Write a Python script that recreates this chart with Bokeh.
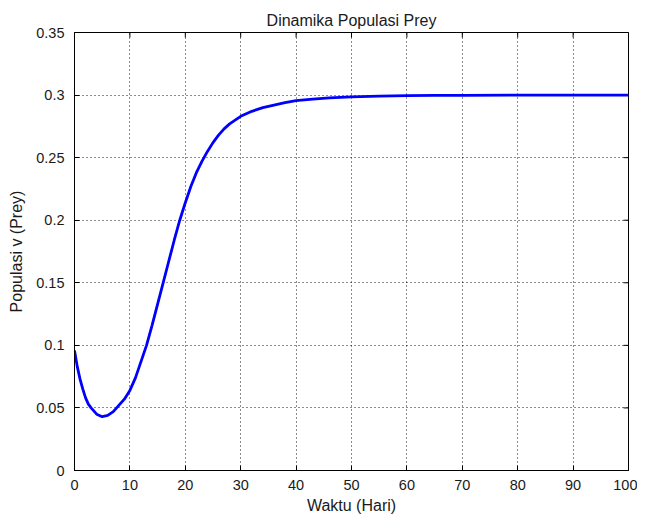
import math
from bokeh.plotting import figure
from bokeh.models import Range1d, FixedTicker
from bokeh.embed import file_html
from bokeh.resources import INLINE

# data
t = [0, 0.5, 1, 1.5, 2, 2.5, 3, 4, 5, 6, 7, 8, 9, 10, 11, 12, 13, 14, 15, 16,
     17, 18, 19, 20, 21, 22, 23, 24, 25, 26, 27, 28, 29, 30, 32, 34, 36, 38,
     40, 43, 46, 50, 55, 60, 65, 70, 80, 90, 100]
prey = [0.096, 0.083, 0.073, 0.065, 0.058, 0.053, 0.050, 0.045, 0.043, 0.044,
        0.047, 0.052, 0.057, 0.064, 0.074, 0.087, 0.100, 0.116, 0.133, 0.150,
        0.167, 0.184, 0.200, 0.214, 0.227, 0.238, 0.247, 0.255, 0.262, 0.268,
        0.273, 0.277, 0.280, 0.283, 0.287, 0.290, 0.292, 0.294, 0.2955, 0.2968,
        0.2978, 0.2986, 0.2992, 0.2995, 0.2997, 0.2998, 0.2999, 0.3, 0.3]
x_ticks = [0, 10, 20, 30, 40, 50, 60, 70, 80, 90, 100]
y_ticks = [0, 0.05, 0.1, 0.15, 0.2, 0.25, 0.3, 0.35]
y_labels = {0: "0", 0.05: "0.05", 0.1: "0.1", 0.15: "0.15", 0.2: "0.2",
            0.25: "0.25", 0.3: "0.3", 0.35: "0.35"}
x_max = 100
y_max = 0.35

FONT = "Liberation Sans"
TXT = "#1a1a1a"

p = figure(width=637, height=518, output_backend="svg", toolbar_location=None,
           x_range=Range1d(0, x_max), y_range=Range1d(0, y_max),
           x_axis_label="Waktu (Hari)", y_axis_label="Populasi v (Prey)")
p.min_border_left = 74
p.min_border_right = 9
p.min_border_top = 32
p.min_border_bottom = 48
p.background_fill_color = "white"
p.border_fill_color = "white"
p.outline_line_color = "black"
p.outline_line_width = 1

p.title.text = "Dinamika Populasi Prey"
p.title.align = "center"
p.title.text_font = FONT
p.title.text_font_size = "16px"
p.title.text_font_style = "normal"
p.title.text_color = TXT
p.title.standoff = 8

for ax in (p.xaxis[0], p.yaxis[0]):
    ax.major_tick_in = 5
    ax.major_tick_out = 0
    ax.minor_tick_in = 0
    ax.minor_tick_out = 0
    ax.axis_line_color = "black"
    ax.major_tick_line_color = "black"
    ax.major_label_text_font = FONT
    ax.major_label_text_font_size = "14.5px"
    ax.major_label_text_color = TXT
    ax.axis_label_text_font = FONT
    ax.axis_label_text_font_size = "16px"
    ax.axis_label_text_font_style = "normal"
    ax.axis_label_text_color = TXT

p.xaxis.ticker = FixedTicker(ticks=x_ticks)
p.yaxis.ticker = FixedTicker(ticks=y_ticks)
p.yaxis.major_label_overrides = y_labels
p.xaxis.major_label_standoff = 9
p.yaxis.major_label_standoff = 10
p.xaxis.axis_label_standoff = 4
p.yaxis.axis_label_standoff = 8

p.xgrid.ticker = FixedTicker(ticks=x_ticks)
p.ygrid.ticker = FixedTicker(ticks=y_ticks)
for g in (p.xgrid[0], p.ygrid[0]):
    g.grid_line_color = "black"
    g.grid_line_dash = "1 3"
    g.grid_line_width = 1
    g.grid_line_alpha = 0.9

# inward ticks on the top and right edges (MATLAB box), clipped to the frame
p.scatter(x_ticks, [y_max] * len(x_ticks), marker="dash", size=10,
          angle=math.pi / 2, line_color="black", line_width=1)
p.scatter([x_max] * len(y_ticks), y_ticks, marker="dash", size=10,
          line_color="black", line_width=1)

p.line(t, prey, line_color="#0000FF", line_width=2.8)

open("out.html", "w").write(file_html(p, INLINE))
